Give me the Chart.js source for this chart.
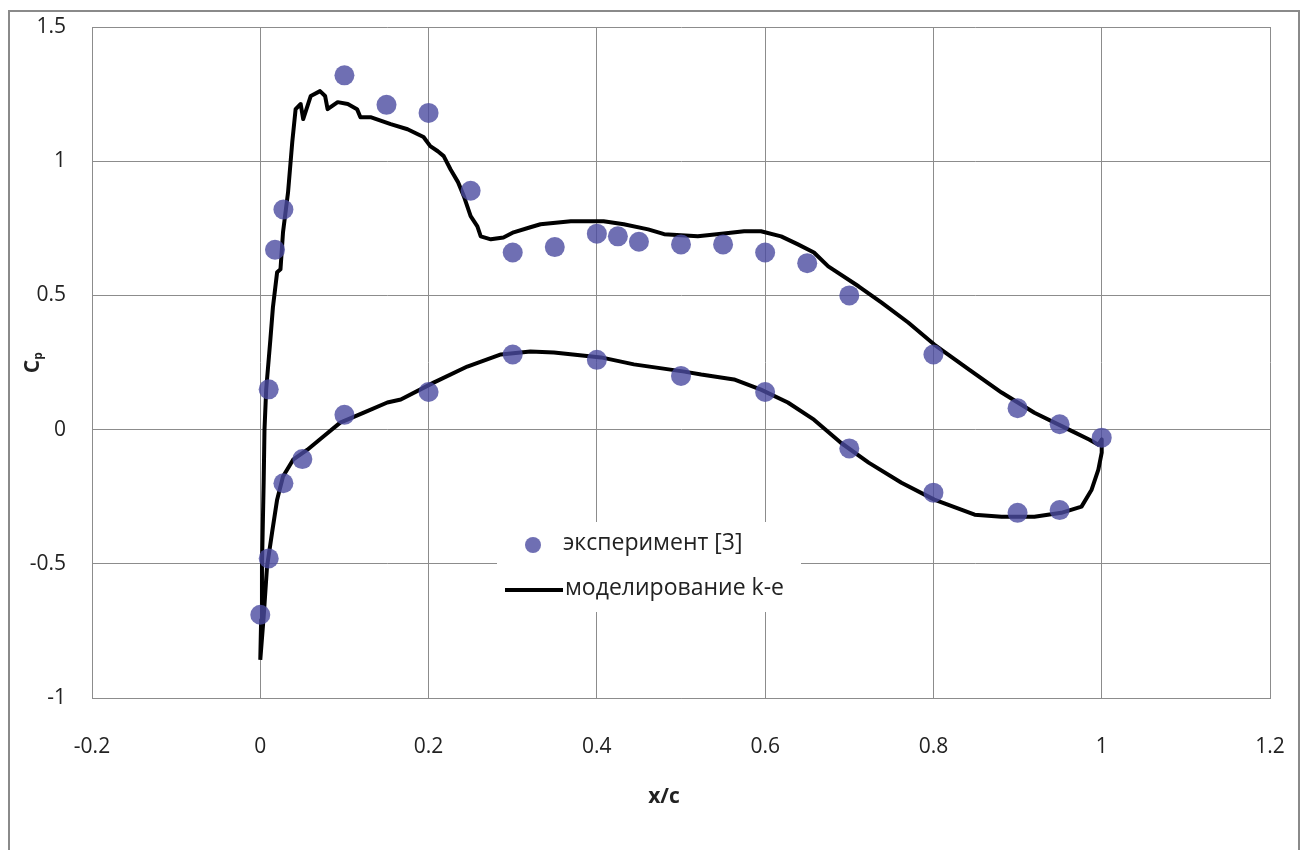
<!DOCTYPE html>
<html>
<head>
<meta charset="utf-8">
<script src="https://cdn.jsdelivr.net/npm/chart.js@4.4.1/dist/chart.umd.min.js"></script>
<style>
  html, body { margin: 0; padding: 0; background: #fff; }
  #wrap { position: relative; width: 1311px; height: 850px; overflow: hidden; }
  #frame { position: absolute; left: 8px; top: 10px; width: 1292px; height: 860px;
           border: 2px solid #8a8a8a; box-sizing: border-box; pointer-events: none; }
  canvas { position: absolute; left: 0; top: 0; }
</style>
</head>
<body>
<div id="wrap">
  <canvas id="cpChart" width="1311" height="850"></canvas>
  <div id="frame"></div>
</div>
<script>
// ---------- data ----------
const xTicks = [-0.2, 0, 0.2, 0.4, 0.6, 0.8, 1, 1.2];
const yTicks = [-1, -0.5, 0, 0.5, 1, 1.5];

// experiment [3], pressure coefficient on both surfaces
const expX = [0, 0.01, 0.0175, 0.0275, 0.1, 0.15, 0.2, 0.25, 0.3, 0.35, 0.4, 0.425, 0.45, 0.5, 0.55, 0.6, 0.65, 0.7, 0.8, 0.9, 0.95, 1.0,
              0.01, 0.0275, 0.05, 0.1, 0.2, 0.3, 0.4, 0.5, 0.6, 0.7, 0.8, 0.9, 0.95];
const expCp = [-0.69, 0.15, 0.67, 0.82, 1.32, 1.21, 1.18, 0.89, 0.66, 0.68, 0.73, 0.72, 0.70, 0.69, 0.69, 0.66, 0.62, 0.50, 0.28, 0.08, 0.02, -0.03,
               -0.48, -0.20, -0.11, 0.055, 0.14, 0.28, 0.26, 0.20, 0.14, -0.07, -0.235, -0.31, -0.30];

// k-e simulation, closed contour: upper surface LE -> TE, then lower surface TE -> LE
const cfdX = [0.000, 0.001, 0.002, 0.004, 0.005, 0.007, 0.012, 0.015, 0.020, 0.024, 0.027, 0.033, 0.038, 0.042, 0.048, 0.051,
              0.060, 0.071, 0.077, 0.080, 0.092, 0.104, 0.115, 0.119, 0.131, 0.155, 0.175, 0.194, 0.202, 0.211, 0.218, 0.226,
              0.235, 0.242, 0.250, 0.258, 0.262, 0.274, 0.289, 0.301, 0.321, 0.333, 0.369, 0.408, 0.432, 0.461, 0.480, 0.520,
              0.551, 0.575, 0.595, 0.619, 0.639, 0.658, 0.675, 0.711, 0.738, 0.770, 0.801, 0.842, 0.881, 0.920, 0.961, 0.985,
              0.996, 1.000,
              1.000, 0.996, 0.988, 0.976, 0.952, 0.920, 0.881, 0.849, 0.801, 0.762, 0.723, 0.690, 0.658, 0.627, 0.595, 0.563,
              0.524, 0.504, 0.444, 0.405, 0.349, 0.321, 0.286, 0.246, 0.206, 0.167, 0.151, 0.123, 0.095, 0.075, 0.056, 0.039,
              0.027, 0.020, 0.014, 0.008, 0.004, 0.000];
const cfdCp = [-0.858, -0.709, -0.510, -0.198, 0.000, 0.149, 0.336, 0.455, 0.586, 0.597, 0.735, 0.884, 1.071, 1.194, 1.213, 1.157,
               1.243, 1.261, 1.243, 1.194, 1.220, 1.213, 1.194, 1.164, 1.164, 1.138, 1.119, 1.090, 1.056, 1.037, 1.019, 0.970,
               0.922, 0.869, 0.795, 0.757, 0.720, 0.709, 0.716, 0.735, 0.754, 0.765, 0.776, 0.776, 0.765, 0.746, 0.728, 0.720,
               0.731, 0.739, 0.739, 0.720, 0.690, 0.660, 0.608, 0.534, 0.474, 0.399, 0.317, 0.224, 0.138, 0.063, 0.000, -0.037,
               -0.056, -0.037,
               -0.086, -0.149, -0.224, -0.287, -0.310, -0.325, -0.325, -0.317, -0.261, -0.198, -0.123, -0.049, 0.037, 0.101, 0.149, 0.187,
               0.205, 0.216, 0.243, 0.269, 0.287, 0.291, 0.280, 0.235, 0.175, 0.112, 0.101, 0.063, 0.026, -0.026, -0.075, -0.112,
               -0.175, -0.261, -0.384, -0.511, -0.698, -0.858];

const expLabel = 'эксперимент [3]';
const cfdLabel = 'моделирование k-e';

// ---------- styles ----------
const FONT = '"Open Sans", "DejaVu Sans", sans-serif';
const gridColor = '#8c8c8c';
const dotColor = 'rgba(75, 75, 160, 0.8)';

const toPoints = (xs, ys) => xs.map((x, i) => ({ x: x, y: ys[i] }));
const fmt = v => String(Number(v.toFixed(2)));

// fixed axis box sizes, no extra room for overhanging labels
const fixBox = size => s => {
  if (s.isHorizontal()) s.height = size; else s.width = size;
  s.paddingTop = s.paddingBottom = s.paddingLeft = s.paddingRight = 0;
};

// axis titles + in-plot legend
const annotations = {
  id: 'annotations',
  afterDatasetsDraw(chart) {
    const ctx = chart.ctx;
    ctx.save();

    // legend box
    ctx.fillStyle = '#fff';
    ctx.fillRect(497, 522, 304, 90);
    ctx.fillStyle = dotColor;
    ctx.beginPath();
    ctx.arc(533, 545, 8, 0, Math.PI * 2);
    ctx.fill();
    ctx.strokeStyle = '#000';
    ctx.lineWidth = 4;
    ctx.beginPath();
    ctx.moveTo(505, 590);
    ctx.lineTo(563, 590);
    ctx.stroke();
    ctx.fillStyle = '#222';
    ctx.font = '23px ' + FONT;
    ctx.textBaseline = 'middle';
    ctx.textAlign = 'left';
    ctx.fillText(expLabel, 563, 543);
    ctx.fillText(cfdLabel, 565, 588);

    // x title
    ctx.font = 'bold 21px ' + FONT;
    ctx.textAlign = 'center';
    ctx.fillText('x/c', 664, 797);

    // y title, rotated, with subscript
    ctx.translate(33, 363);
    ctx.rotate(-Math.PI / 2);
    ctx.textAlign = 'left';
    ctx.font = 'bold 21px ' + FONT;
    const cw = ctx.measureText('C').width;
    ctx.fillText('C', -(cw + 7) / 2, 0);
    ctx.font = 'bold 12px ' + FONT;
    ctx.fillText('p', -(cw + 7) / 2 + cw, 6);
    ctx.restore();
  }
};

new Chart(document.getElementById('cpChart'), {
  type: 'scatter',
  data: {
    datasets: [
      {
        label: expLabel,
        data: toPoints(expX, expCp),
        backgroundColor: dotColor,
        borderWidth: 0,
        pointRadius: 10,
        order: 0
      },
      {
        label: cfdLabel,
        data: toPoints(cfdX, cfdCp),
        showLine: true,
        borderColor: '#000',
        borderWidth: 4,
        pointRadius: 0,
        tension: 0,
        borderJoinStyle: 'round',
        order: 1
      }
    ]
  },
  options: {
    responsive: false,
    animation: false,
    layout: { padding: { top: 27, right: 41, left: 0, bottom: 0 } },
    plugins: { legend: { display: false }, tooltip: { enabled: false } },
    scales: {
      x: {
        type: 'linear',
        min: -0.2, max: 1.2,
        afterBuildTicks: s => { s.ticks = xTicks.map(v => ({ value: v })); },
        afterFit: fixBox(152),
        grid: { color: gridColor, lineWidth: 1, drawTicks: false },
        border: { display: true, color: gridColor, width: 1 },
        ticks: { color: '#222', padding: 36, font: { family: FONT, size: 21 }, callback: fmt }
      },
      y: {
        type: 'linear',
        min: -1, max: 1.5,
        afterBuildTicks: s => { s.ticks = yTicks.map(v => ({ value: v })); },
        afterFit: fixBox(92),
        grid: { color: gridColor, lineWidth: 1, drawTicks: false },
        border: { display: true, color: gridColor, width: 1 },
        ticks: { color: '#222', padding: 26, font: { family: FONT, size: 21 }, callback: fmt }
      }
    }
  },
  plugins: [annotations]
});
</script>
</body>
</html>
